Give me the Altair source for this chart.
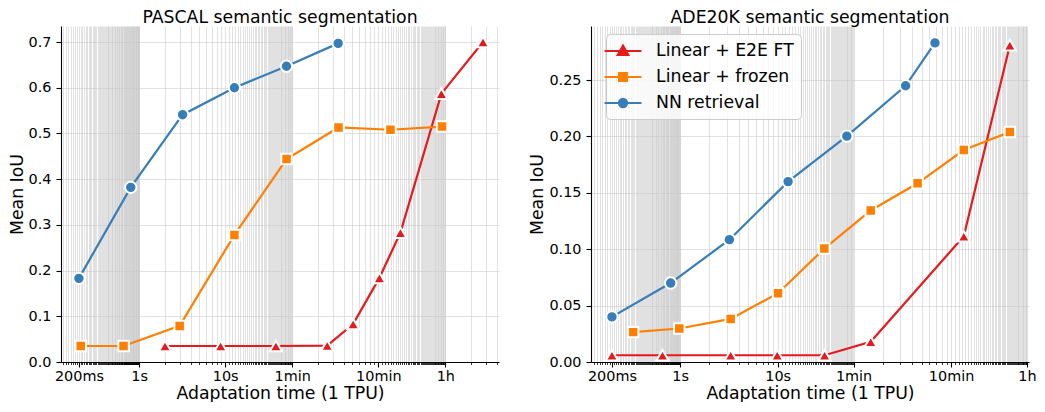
import altair as alt
import pandas as pd

series_names = ["Linear + E2E FT", "Linear + frozen", "NN retrieval"]
series_colors = ["#e41a1c", "#ff7f00", "#377eb8"]
series_shapes = ["triangle-up", "square", "circle"]
series_sizes = [150, 110, 130]
# legend glyphs: a line with the marker in its middle (unit box, scaled by the legend symbol size)
legend_paths = [
    "M-2.05,0H2.05M0,-0.62L0.6,0.45L-0.6,0.45Z",
    "M-2.05,0H2.05M-0.44,-0.44H0.44V0.44H-0.44Z",
    "M-2.05,0H2.05M0.46,0A0.46,0.46,0,1,1,-0.46,0A0.46,0.46,0,1,1,0.46,0Z",
]

# PASCAL semantic segmentation (time in seconds, mean IoU)
pascal_e2e_t = [2.0, 8.85, 38.8, 153, 306, 618, 1084, 3243, 9860]
pascal_e2e_y = [0.035, 0.035, 0.035, 0.036, 0.083, 0.184, 0.283, 0.587, 0.700]
pascal_frozen_t = [0.21, 0.66, 2.96, 12.8, 51.6, 207, 830, 3300]
pascal_frozen_y = [0.035, 0.035, 0.079, 0.278, 0.444, 0.513, 0.508, 0.515]
pascal_nn_t = [0.2, 0.8, 3.2, 12.8, 51.5, 205]
pascal_nn_y = [0.183, 0.382, 0.541, 0.600, 0.647, 0.697]

# ADE20K semantic segmentation
ade_e2e_t = [0.2, 0.66, 3.3, 9.9, 30.3, 90, 810, 2400]
ade_e2e_y = [0.006, 0.006, 0.006, 0.006, 0.006, 0.018, 0.1115, 0.281]
ade_frozen_t = [0.33, 0.98, 3.3, 10.1, 30.1, 90, 272, 810, 2400]
ade_frozen_y = [0.0265, 0.0297, 0.0382, 0.061, 0.1006, 0.1344, 0.1585, 0.188, 0.204]
ade_nn_t = [0.2, 0.8, 3.2, 12.8, 51.2, 205, 410]
ade_nn_y = [0.040, 0.070, 0.1085, 0.160, 0.2003, 0.245, 0.283]

major_values = [0.2, 1, 10, 60, 600, 3600]
major_labels = ["200ms", "1s", "10s", "1min", "10min", "1h"]
# minor grid: every 10 ms below 1 s, every second below 1 min, every minute below 1 h, every hour
minor_values = ([i / 100 for i in range(11, 100)] + list(range(1, 60))
                + [60 * i for i in range(1, 60)] + [3600 * i for i in range(1, 6)])

pascal_y_ticks = [0.0, 0.1, 0.2, 0.3, 0.4, 0.5, 0.6, 0.7]
ade_y_ticks = [0.0, 0.05, 0.10, 0.15, 0.20, 0.25]

FONT = "DejaVu Sans"
GRID_COLOR = "#c8c8c8"
GRID_OPACITY = 0.55


def make_df(ts, ys):
    rows = []
    for name, t, y in zip(series_names, ts, ys):
        for a, b in zip(t, y):
            rows.append({"series": name, "t": a, "y": b})
    return pd.DataFrame(rows)


label_expr = " : ".join(
    f"datum.value == {v} ? '{l}'" for v, l in zip(major_values, major_labels)
) + " : ''"
major_test = "indexof([" + ",".join(str(v) for v in major_values) + "], datum.value) >= 0"


def panel(df, title, xdom, ydom, yticks, yfmt, width, with_legend):
    vals = sorted(set(v for v in minor_values + major_values if xdom[0] <= v <= xdom[1]))
    x_axis = alt.Axis(
        values=vals, labelExpr=label_expr, labelOverlap=False, labelFlush=False,
        grid=True, gridColor=GRID_COLOR, gridOpacity=GRID_OPACITY, gridWidth=1,
        tickSize={"condition": {"test": major_test, "value": 5}, "value": 2.5},
        tickWidth={"condition": {"test": major_test, "value": 1.1}, "value": 0.8},
        labelPadding=2, titlePadding=2, title="Adaptation time (1 TPU)",
    )
    y_axis = alt.Axis(
        values=yticks, format=yfmt, grid=True, gridColor=GRID_COLOR, gridOpacity=GRID_OPACITY,
        gridWidth=1, tickSize=5, tickWidth=1.1, labelPadding=5, titlePadding=2,
        title="Mean IoU",
    )
    x = alt.X("t:Q", scale=alt.Scale(type="log", domain=xdom, nice=False, zero=False), axis=x_axis)
    y = alt.Y("y:Q", scale=alt.Scale(domain=ydom, nice=False, zero=False), axis=y_axis)
    layers = []
    for name, col, shp, sz in zip(series_names, series_colors, series_shapes, series_sizes):
        base = alt.Chart(df).transform_filter(alt.datum.series == name)
        layers.append(base.mark_line(color=col, strokeWidth=2.2).encode(x=x, y=y))
        layers.append(base.mark_point(shape=shp, filled=True, fill=col, stroke="white",
                                      strokeWidth=2, size=sz, opacity=1).encode(x=x, y=y))
    if with_legend:
        leg = alt.Legend(
            title=None, orient="none", legendX=15, legendY=8, padding=7,
            labelFont=FONT, labelFontSize=17.3, labelColor="black", labelOffset=23,
            rowPadding=7, symbolStrokeWidth=2, strokeColor="#cccccc",
            fillColor="rgba(255,255,255,0.8)", cornerRadius=4, symbolSize=324,
        )
        cscale = alt.Scale(domain=series_names, range=series_colors)
        layers.append(
            alt.Chart(df).transform_filter("false")
            .mark_point(filled=True, size=324, strokeWidth=2, opacity=1)
            .encode(
                x=x, y=y,
                fill=alt.Fill("series:N", scale=cscale, legend=leg),
                stroke=alt.Stroke("series:N", scale=cscale, legend=leg),
                shape=alt.Shape("series:N", scale=alt.Scale(domain=series_names, range=legend_paths), legend=leg),
            )
        )
    return alt.layer(*layers).properties(
        width=width, height=336,
        title=alt.TitleParams(title, font=FONT, fontSize=17.3, fontWeight="normal",
                              color="black", offset=0, frame="group", anchor="middle"),
    )


pascal_df = make_df([pascal_e2e_t, pascal_frozen_t, pascal_nn_t],
                    [pascal_e2e_y, pascal_frozen_y, pascal_nn_y])
ade_df = make_df([ade_e2e_t, ade_frozen_t, ade_nn_t],
                 [ade_e2e_y, ade_frozen_y, ade_nn_y])

left = panel(pascal_df, "PASCAL semantic segmentation", [0.1239, 15130], [0, 0.735],
             pascal_y_ticks, ".1f", 438, False)
right = panel(ade_df, "ADE20K semantic segmentation", [0.122, 3775], [0, 0.298],
              ade_y_ticks, ".2f", 438, True)

chart = alt.hconcat(left, right, spacing=29).resolve_legend(
    fill="independent", stroke="independent", shape="independent"
).properties(
    padding={"top": 0, "left": 0, "right": 0, "bottom": 0}
).configure(font=FONT).configure_view(stroke=None).configure_axis(
    labelFont=FONT, titleFont=FONT, labelFontSize=14.4, titleFontSize=17.3,
    titleFontWeight="normal", labelColor="black", titleColor="black",
    domainColor="black", domainWidth=1.1, tickColor="black",
)

chart.save("out.html", embed_options={"renderer": "svg", "actions": False})
